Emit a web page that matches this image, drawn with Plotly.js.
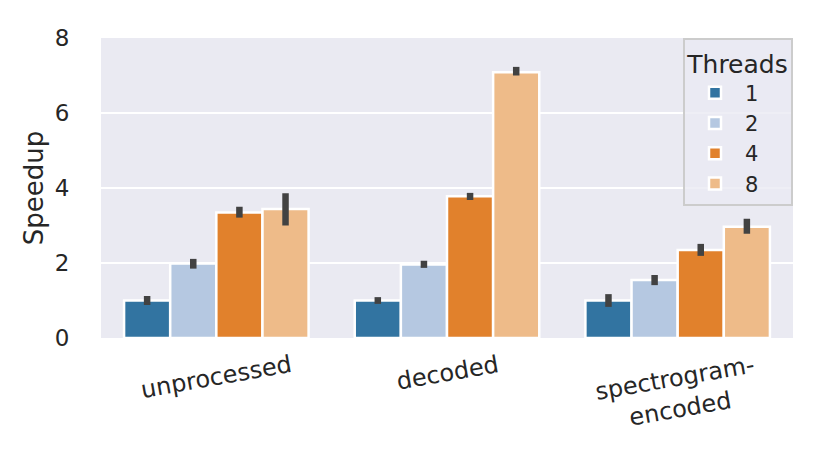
<!DOCTYPE html>
<html>
<head>
<meta charset="utf-8">
<script src="https://cdn.plot.ly/plotly-3.0.1.min.js"></script>
<style>
  html, body { margin: 0; padding: 0; background: #ffffff; }
  #chart { width: 831px; height: 450px; }
</style>
</head>
<body>
<div id="chart"></div>
<script>
// speedup per data format, grouped by thread count
const CATEGORIES  = [ 'unprocessed', 'decoded', 'spectrogram-encoded' ];
const TICK_LABELS = [ 'unprocessed', 'decoded', 'spectrogram-<br>encoded' ];
const THREADS     = [ '1', '2', '4', '8' ];

const SPEEDUP_1 = [ 1.00, 1.00, 1.00 ];
const SPEEDUP_2 = [ 1.99, 1.96, 1.55 ];
const SPEEDUP_4 = [ 3.35, 3.78, 2.35 ];
const SPEEDUP_8 = [ 3.44, 7.09, 2.97 ];

// error bar extents (low / high)
const LOW_1  = [ 0.88, 0.91, 0.83 ];
const HIGH_1 = [ 1.12, 1.09, 1.17 ];
const LOW_2  = [ 1.85, 1.87, 1.41 ];
const HIGH_2 = [ 2.11, 2.06, 1.68 ];
const LOW_4  = [ 3.21, 3.68, 2.19 ];
const HIGH_4 = [ 3.50, 3.87, 2.51 ];
const LOW_8  = [ 3.00, 7.00, 2.78 ];
const HIGH_8 = [ 3.86, 7.23, 3.18 ];

const COLORS     = [ '#3274a1', '#b5c8e1', '#e1812c', '#eebb89' ];
const TEXT_COLOR = '#262626';
const FONT       = 'DejaVu Sans, sans-serif';

const values = [ SPEEDUP_1, SPEEDUP_2, SPEEDUP_4, SPEEDUP_8 ];
const lows   = [ LOW_1, LOW_2, LOW_4, LOW_8 ];
const highs  = [ HIGH_1, HIGH_2, HIGH_4, HIGH_8 ];

function make_bar( n ) {
	const v = values[ n ];
	return {
		type: 'bar',
		name: THREADS[ n ],
		x   : CATEGORIES,
		y   : v,
		marker: { color: COLORS[ n ], line: { color: '#ffffff', width: 2.5 } },
		error_y: {
			type      : 'data',
			symmetric : false,
			array     : highs[ n ].map( ( h, i ) => h - v[ i ] ),
			arrayminus: lows[ n ].map( ( l, i ) => v[ i ] - l ),
			color     : '#424242',
			thickness : 6.5,
			width     : 0
		},
		hoverinfo: 'skip'
	};
}

let traces = [];
for ( let n = 0; n < THREADS.length; n++ ) {
	traces.push( make_bar( n ) );
}

const annotations = CATEGORIES.map( ( c, i ) => ( {
	x        : c,
	xref     : 'x',
	y        : 0,
	yref     : 'paper',
	yanchor  : 'top',
	xanchor  : 'center',
	yshift   : -10,
	text     : TICK_LABELS[ i ],
	textangle: -10,
	align    : 'center',
	showarrow: false,
	font     : { family: FONT, size: 24, color: TEXT_COLOR }
} ) );

const layout = {
	width        : 831,
	height       : 450,
	margin       : { l: 101, r: 38, t: 38, b: 112 },
	paper_bgcolor: '#ffffff',
	plot_bgcolor : '#eaeaf2',
	barmode      : 'group',
	bargap       : 0.2,
	bargroupgap  : 0,
	font         : { family: FONT, color: TEXT_COLOR },
	xaxis: {
		type          : 'category',
		showticklabels: false,
		showgrid      : false,
		zeroline      : false,
		showline      : false,
		ticks         : ''
	},
	yaxis: {
		range    : [ 0, 8 ],
		dtick    : 2,
		tick0    : 0,
		showgrid : true,
		gridcolor: '#ffffff',
		gridwidth: 2.5,
		zeroline : false,
		showline : false,
		ticks    : 'outside',
		ticklen  : 26,
		tickcolor: 'rgba(0,0,0,0)',
		tickfont : { family: FONT, size: 23, color: TEXT_COLOR },
		title    : { text: 'Speedup', font: { family: FONT, size: 26, color: TEXT_COLOR }, standoff: 3 }
	},
	legend: {
		title      : { text: 'Threads', font: { family: FONT, size: 25, color: TEXT_COLOR }, side: 'top center' },
		font       : { family: FONT, size: 21, color: TEXT_COLOR },
		x          : 1,
		xanchor    : 'right',
		y          : 1,
		yanchor    : 'top',
		bgcolor    : 'rgba(234,234,242,0.8)',
		bordercolor: '#cccccc',
		borderwidth: 2,
		itemwidth  : 50,
		tracegroupgap: 0
	},
	annotations: annotations,
	showlegend : true
};

Plotly.newPlot( 'chart', traces, layout, { displayModeBar: false, staticPlot: true } );
</script>
</body>
</html>
